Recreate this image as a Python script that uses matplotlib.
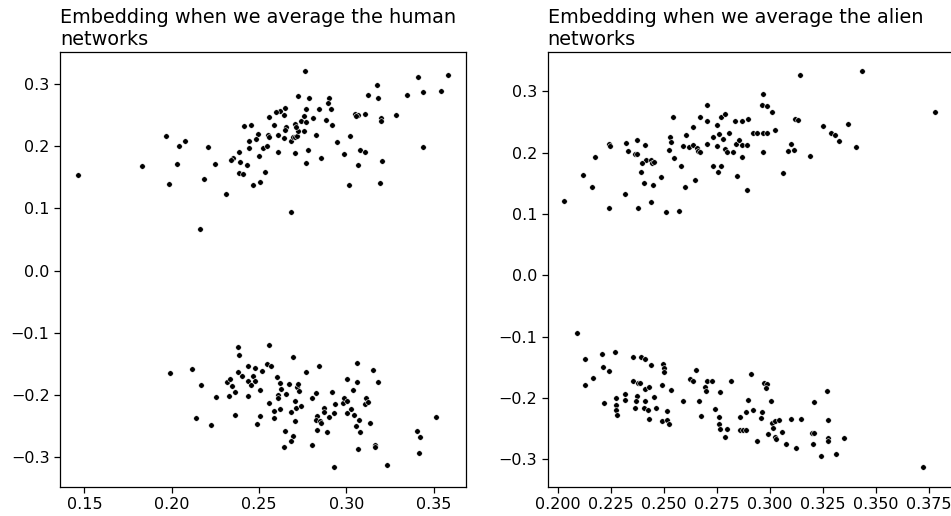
import numpy as np
import matplotlib
matplotlib.use("Agg")
import matplotlib.pyplot as plt

# embedding coordinates, averaged human networks (two clusters)
human_x = [
    0.1466, 0.1831, 0.1967, 0.2040, 0.2075, 0.2029, 0.1983, 0.2207, 0.2249, 0.2186,
    0.2310, 0.2163, 0.2414, 0.2456, 0.2496, 0.2481, 0.2443, 0.2443, 0.2387, 0.2353,
    0.2339, 0.2389, 0.2429, 0.2498, 0.2525, 0.2546, 0.2552, 0.2559, 0.2385, 0.2408,
    0.2536, 0.2464, 0.2504,
    0.2557, 0.2586, 0.2609, 0.2642, 0.2653, 0.2649, 0.2611, 0.2686, 0.2692, 0.2707,
    0.2716, 0.2724, 0.2709, 0.2711, 0.2739, 0.2755, 0.2768, 0.2755, 0.2807, 0.2824,
    0.2883, 0.2918, 0.2709, 0.2780, 0.2768, 0.2856, 0.2948, 0.2985, 0.3021, 0.3048,
    0.3069, 0.3057, 0.3107, 0.3123, 0.3176, 0.3184, 0.3197, 0.3201, 0.3287, 0.3345,
    0.3408, 0.3439, 0.3544, 0.3580, 0.3439, 0.3077, 0.3105, 0.3065, 0.3207, 0.3015,
    0.3195, 0.2684, 0.2762, 0.2724, 0.2787, 0.2900, 0.2898, 0.2910, 0.2841, 0.2772,
    0.2648, 0.2623, 0.2600, 0.2644,
    0.1992, 0.2117, 0.2169, 0.2140, 0.2226, 0.2255, 0.2381, 0.2385, 0.2318, 0.2335,
    0.2345, 0.2360, 0.2329, 0.2364, 0.2381, 0.2400, 0.2437, 0.2477, 0.2467, 0.2439,
    0.2452, 0.2479, 0.2437, 0.2517, 0.2548, 0.2508, 0.2508, 0.2489, 0.2557, 0.2557,
    0.2571, 0.2697, 0.2603, 0.2623, 0.2628, 0.2607, 0.2607, 0.2655, 0.2674, 0.2715,
    0.2724, 0.2728, 0.2588, 0.2584, 0.2619, 0.2707, 0.2711, 0.2686, 0.2738, 0.2707,
    0.2649, 0.2693, 0.2684, 0.2642, 0.2768, 0.2843, 0.2824, 0.2803, 0.2870, 0.2874,
    0.2832, 0.2826, 0.2849, 0.2854, 0.2830, 0.2900, 0.2891, 0.2805, 0.2920, 0.2937,
    0.2931, 0.2927, 0.2981, 0.2989, 0.3004, 0.3002, 0.3025, 0.3044, 0.3004, 0.3040,
    0.3059, 0.3061, 0.3075, 0.3056, 0.3077, 0.3069, 0.3111, 0.3105, 0.3126, 0.3136,
    0.3151, 0.3182, 0.3163, 0.3163, 0.3234, 0.3406, 0.3425, 0.3414, 0.3515,
]
human_y = [
    0.1530, 0.1685, 0.2167, 0.2006, 0.2076, 0.1712, 0.1391, 0.1980, 0.1712, 0.1466,
    0.1236, 0.0663, 0.2327, 0.2343, 0.2188, 0.2119, 0.2076, 0.1974, 0.1905, 0.1808,
    0.1782, 0.1750, 0.1696, 0.1835, 0.1969, 0.1996, 0.2178, 0.2461, 0.1568, 0.1546,
    0.1584, 0.1375, 0.1418,
    0.2146, 0.2343, 0.2172, 0.2129, 0.2301, 0.2263, 0.1900, 0.2076, 0.2151, 0.2151,
    0.2167, 0.2236, 0.2360, 0.2301, 0.2408, 0.2488, 0.2381, 0.2236, 0.2445, 0.2183,
    0.2413, 0.2333, 0.1889, 0.1932, 0.1728, 0.1808, 0.2060, 0.1878, 0.2162, 0.2515,
    0.2504, 0.2488, 0.2520, 0.2825, 0.2980, 0.2777, 0.2445, 0.2408, 0.2499, 0.2814,
    0.3109, 0.2868, 0.2889, 0.3146, 0.1985, 0.1937, 0.1900, 0.1696, 0.1766, 0.1375,
    0.1402, 0.0942, 0.3200, 0.2798, 0.2772, 0.2777, 0.2686, 0.2600, 0.2595, 0.2595,
    0.2616, 0.2568, 0.2541, 0.2504,
    -0.1648, -0.1584, -0.1841, -0.2365, -0.2483, -0.2028, -0.1236, -0.1354, -0.1787, -0.1739,
    -0.1857, -0.1958, -0.2017, -0.2322, -0.1632, -0.1691, -0.1536, -0.1562, -0.1701, -0.1776,
    -0.1835, -0.1771, -0.2022, -0.1621, -0.1498, -0.1926, -0.2338, -0.2467, -0.1204, -0.2124,
    -0.1541, -0.1386, -0.1712, -0.1808, -0.1905, -0.2006, -0.2049, -0.1990, -0.1830, -0.1873,
    -0.1830, -0.1937, -0.2258, -0.2365, -0.2231, -0.2092, -0.2210, -0.2279, -0.2183, -0.2413,
    -0.2579, -0.2665, -0.2739, -0.2830, -0.1632, -0.1536, -0.1969, -0.2049, -0.2210, -0.2274,
    -0.2343, -0.2397, -0.2418, -0.2450, -0.2563, -0.2354, -0.2595, -0.2798, -0.1953, -0.2151,
    -0.2290, -0.3157, -0.2129, -0.2055, -0.2103, -0.2285, -0.2231, -0.2322, -0.1750, -0.1926,
    -0.1798, -0.1482, -0.2402, -0.2504, -0.2600, -0.2868, -0.2044, -0.2151, -0.2108, -0.2445,
    -0.1605, -0.1798, -0.2804, -0.2836, -0.3125, -0.2579, -0.2681, -0.2932, -0.2354,
]

# embedding coordinates, averaged alien networks
alien_x = [
    0.2032, 0.2119, 0.2161, 0.2176, 0.2244, 0.2248, 0.2240, 0.2321, 0.2330, 0.2318,
    0.2376, 0.2414, 0.2365, 0.2376, 0.2417, 0.2398, 0.2440, 0.2443, 0.2454, 0.2392,
    0.2406, 0.2451, 0.2489, 0.2440, 0.2380, 0.2512, 0.2571, 0.2542, 0.2528, 0.2534,
    0.2525, 0.2549, 0.2583, 0.2590, 0.2606, 0.2637, 0.2620, 0.2637, 0.2655, 0.2664,
    0.2672, 0.2601, 0.2650, 0.2670, 0.2702, 0.2705, 0.2705, 0.2732, 0.2752, 0.2770,
    0.2791, 0.2762, 0.2781, 0.2806, 0.2751, 0.2789, 0.2800, 0.2825, 0.2732, 0.2770,
    0.2757, 0.2838, 0.2840, 0.2846,
    0.2855, 0.2868, 0.2897, 0.2870, 0.2893, 0.2870, 0.2892, 0.2969, 0.2963, 0.2987,
    0.3009, 0.2919, 0.2942, 0.2968, 0.2987, 0.3026, 0.2970, 0.3061, 0.3142, 0.3121,
    0.3132, 0.3100, 0.3086, 0.3116, 0.3192, 0.3251, 0.3287, 0.3308, 0.3328, 0.3371,
    0.3406, 0.3434, 0.3781,
    0.2089, 0.2127, 0.2131, 0.2166, 0.2209, 0.2215, 0.2244, 0.2218, 0.2270, 0.2277,
    0.2275, 0.2275, 0.2280, 0.2318, 0.2319, 0.2356, 0.2394, 0.2414, 0.2441, 0.2357,
    0.2381, 0.2387, 0.2414, 0.2432, 0.2375, 0.2370, 0.2364, 0.2411, 0.2405, 0.2424,
    0.2455, 0.2465, 0.2433, 0.2490, 0.2495, 0.2500, 0.2503, 0.2536, 0.2517, 0.2493,
    0.2517, 0.2527, 0.2591, 0.2625, 0.2640, 0.2651, 0.2667, 0.2674, 0.2696, 0.2699,
    0.2705, 0.2727, 0.2740, 0.2765, 0.2762, 0.2762, 0.2767, 0.2799, 0.2790, 0.2819,
    0.2859, 0.2859, 0.2873, 0.2887,
    0.2887, 0.2910, 0.2898, 0.2919, 0.2941, 0.2957, 0.2965, 0.2974, 0.2987, 0.2982,
    0.3006, 0.3012, 0.3023, 0.3015, 0.3044, 0.2990, 0.3026, 0.3032, 0.3056, 0.3077,
    0.3102, 0.3123, 0.3148, 0.3201, 0.3211, 0.3203, 0.3208, 0.3240, 0.3268, 0.3276,
    0.3273, 0.3274, 0.3312, 0.3350, 0.3721,
]
alien_y = [
    0.1221, 0.1644, 0.1438, 0.1937, 0.2149, 0.2111, 0.1107, 0.2160, 0.2024, 0.1335,
    0.2203, 0.2132, 0.1980, 0.1980, 0.1888, 0.1834, 0.1888, 0.1839, 0.1856, 0.1682,
    0.1508, 0.1470, 0.1611, 0.1199, 0.1091, 0.1036, 0.1053, 0.2583, 0.2257, 0.2176,
    0.2051, 0.1921, 0.1785, 0.2111, 0.2290, 0.2425, 0.2094, 0.2122, 0.2078, 0.2035,
    0.2008, 0.1443, 0.1557, 0.2588, 0.2783, 0.2518, 0.2143, 0.2263, 0.2458, 0.2588,
    0.2632, 0.2301, 0.2219, 0.2317, 0.2111, 0.2067, 0.2013, 0.2013, 0.1780, 0.1785,
    0.1687, 0.2518, 0.2149, 0.1617,
    0.2208, 0.2523, 0.2556, 0.2127, 0.2127, 0.1937, 0.1400, 0.2957, 0.2773, 0.2756,
    0.2659, 0.2317, 0.2317, 0.2317, 0.2317, 0.2366, 0.2013, 0.1671, 0.3266, 0.2545,
    0.2528, 0.2149, 0.2035, 0.2046, 0.1953, 0.2442, 0.2317, 0.2284, 0.2192, 0.2463,
    0.2094, 0.3326, 0.2664,
    -0.0933, -0.1367, -0.1796, -0.1682, -0.1286, -0.1503, -0.1563, -0.2078, -0.1253, -0.2008,
    -0.2116, -0.2203, -0.2273, -0.1937, -0.2040, -0.1329, -0.1329, -0.1362, -0.1460, -0.1720,
    -0.1753, -0.1753, -0.1850, -0.1829, -0.1970, -0.2056, -0.2170, -0.2056, -0.2160, -0.2197,
    -0.1991, -0.2160, -0.2349, -0.1785, -0.1438, -0.1519, -0.1574, -0.1867, -0.2214, -0.2382,
    -0.2366, -0.2431, -0.2051, -0.1687, -0.1720, -0.1536, -0.2046, -0.2295, -0.1823, -0.1883,
    -0.1731, -0.1731, -0.2176, -0.1904, -0.2306, -0.2420, -0.2507, -0.2507, -0.2632, -0.1720,
    -0.2311, -0.2528, -0.2528, -0.2235,
    -0.2518, -0.1601, -0.2040, -0.2192, -0.2702, -0.2333, -0.2230, -0.1753, -0.1774, -0.1845,
    -0.2046, -0.2404, -0.2382, -0.2490, -0.2355, -0.2588, -0.2642, -0.2670, -0.2550, -0.2756,
    -0.2349, -0.2811, -0.2344, -0.2566, -0.2572, -0.2751, -0.2073, -0.2946, -0.1883, -0.2360,
    -0.2659, -0.2708, -0.2919, -0.2653, -0.3125,
]

W, H = 951, 516
fig = plt.figure(figsize=(W / 100, H / 100), dpi=100)

bottom = (H - 486.7) / H
height = 435.0 / H
ax1 = fig.add_axes([60 / W, bottom, 406 / W, height])
ax2 = fig.add_axes([547.7 / W, bottom, 405 / W, height])

panels = [
    (ax1, human_x, human_y, "Embedding when we average the human\nnetworks"),
    (ax2, alien_x, alien_y, "Embedding when we average the alien\nnetworks"),
]
for ax, xs, ys, title in panels:
    ax.scatter(np.array(xs), np.array(ys), s=16, c="black",
               edgecolors="white", linewidths=0.4)
    ax.set_title(title, loc="left", fontsize=13.9, pad=5)
    ax.tick_params(labelsize=11.5, length=4, width=0.9)
    for sp in ax.spines.values():
        sp.set_linewidth(0.9)

ax2.set_xticks([0.200, 0.225, 0.250, 0.275, 0.300, 0.325, 0.350, 0.375])
ax2.xaxis.set_major_formatter(plt.FormatStrFormatter("%.3f"))
ax2.set_xlim(0.1953, 0.3863)

fig.savefig("out.png", dpi=100)
